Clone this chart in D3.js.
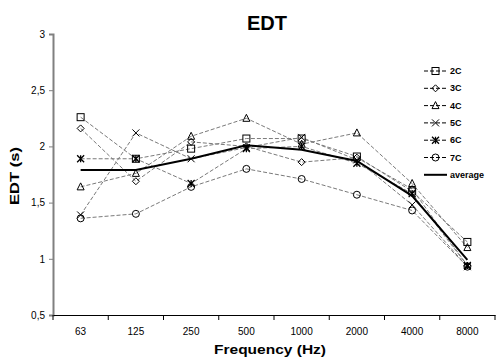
<!DOCTYPE html>
<html><head><meta charset="utf-8">
<script src="https://cdn.jsdelivr.net/npm/d3@7"></script>
<style>body{margin:0;background:#fff}svg{display:block;font-family:"Liberation Sans",Arial,sans-serif}</style>
</head><body><svg id="c" width="499" height="358"></svg>
<script>
const categories = ["63","125","250","500","1000","2000","4000","8000"];
const s2C = [2.26,1.89,1.98,2.07,2.07,1.91,1.60,1.15];
const s3C = [2.16,1.69,2.04,2.00,1.86,1.90,1.62,0.94];
const s4C = [1.64,1.76,2.09,2.25,2.02,2.12,1.67,1.10];
const s5C = [1.39,2.12,1.89,1.99,2.08,1.88,1.48,0.93];
const s6C = [1.89,1.89,1.67,1.98,2.00,1.85,1.58,0.94];
const s7C = [1.36,1.40,1.64,1.80,1.71,1.57,1.43,0.93];
const average = [1.79,1.79,1.89,2.01,1.97,1.87,1.56,0.99];
const yTicks = [0.5,1,1.5,2,2.5,3];
const seriesNames = ["2C","3C","4C","5C","6C","7C"];
const seriesVals = [s2C,s3C,s4C,s5C,s6C,s7C];
const markers = ["square","diamond","triangle","x","asterisk","circle"];

const svg = d3.select("#c");
const x = d3.scaleBand().domain(categories).range([53,495]).padding(0);
const y = d3.scaleLinear().domain([0.5,3]).range([315,34]);
const fmt = v => String(v).replace(".", ",");

// axes
const yAxis = svg.append("g").attr("transform","translate(53,0)")
  .call(d3.axisLeft(y).tickValues(yTicks).tickFormat(fmt).tickSize(4).tickPadding(4));
yAxis.select(".domain").attr("stroke","#808080").attr("stroke-width",2);
yAxis.selectAll(".tick line").attr("stroke","#808080");
yAxis.selectAll("text").attr("font-size","10px").attr("fill","#000");

const xAxis = svg.append("g").attr("transform","translate(0,315)")
  .call(d3.axisBottom(x).tickSize(0).tickPadding(13));
xAxis.select(".domain").attr("stroke","#000");
xAxis.selectAll("text").attr("font-size","10px").attr("fill","#000");
// tick marks at band boundaries
const bounds = categories.map(c => x(c)).concat([x.range()[1]]);
svg.append("g").selectAll("line").data(bounds).join("line")
  .attr("x1",d=>d).attr("x2",d=>d).attr("y1",315).attr("y2",320).attr("stroke","#000");

function drawMarker(g, type, cx, cy) {
  const r = 3.5;
  let el;
  if (type==="square") el = g.append("rect").attr("x",cx-r).attr("y",cy-r).attr("width",2*r).attr("height",2*r);
  else if (type==="diamond") el = g.append("path").attr("d",`M${cx},${cy-r}L${cx+r},${cy}L${cx},${cy+r}L${cx-r},${cy}Z`);
  else if (type==="triangle") el = g.append("path").attr("d",`M${cx},${cy-r-0.5}L${cx+r},${cy+r-0.5}L${cx-r},${cy+r-0.5}Z`);
  else if (type==="x") el = g.append("path").attr("d",`M${cx-r},${cy-r}L${cx+r},${cy+r}M${cx-r},${cy+r}L${cx+r},${cy-r}`);
  else if (type==="asterisk") el = g.append("path").attr("d",`M${cx-r},${cy-r}L${cx+r},${cy+r}M${cx-r},${cy+r}L${cx+r},${cy-r}M${cx},${cy-r}L${cx},${cy+r}`);
  else el = g.append("circle").attr("cx",cx).attr("cy",cy).attr("r",r);
  el.attr("stroke","#000").attr("fill","none").attr("stroke-width", type==="asterisk"?1.3:1);
}

const line = d3.line().x((d,i)=>x(categories[i])+x.bandwidth()/2).y(d=>y(d));
const plot = svg.append("g");
seriesVals.forEach((vals)=>{
  plot.append("path").datum(vals).attr("d",line).attr("fill","none")
    .attr("stroke","#7a7a7a").attr("stroke-width",1).attr("stroke-dasharray","4,2");
});
seriesVals.forEach((vals,si)=>{
  const g = plot.append("g");
  vals.forEach((v,i)=>drawMarker(g, markers[si], x(categories[i])+x.bandwidth()/2, y(v)));
});
plot.append("path").datum(average).attr("d",line).attr("fill","none")
  .attr("stroke","#000").attr("stroke-width",2);

// legend
const lg = svg.append("g");
const names = seriesNames.concat(["average"]);
names.forEach((n,i)=>{
  const ly = 71 + i*17.3;
  if (i<6) {
    lg.append("line").attr("x1",424).attr("x2",447).attr("y1",ly).attr("y2",ly)
      .attr("stroke","#000").attr("stroke-dasharray","4,2");
    drawMarker(lg, markers[i], 435.5, ly);
  } else {
    lg.append("line").attr("x1",424).attr("x2",447).attr("y1",ly).attr("y2",ly)
      .attr("stroke","#000").attr("stroke-width",2);
  }
  lg.append("text").attr("x",450).attr("y",ly+3).attr("font-size","9px").attr("font-weight","bold").text(n);
});

// titles
svg.append("text").attr("x",267).attr("y",30).attr("text-anchor","middle")
  .attr("font-size","20px").attr("font-weight","bold").text("EDT");
svg.append("text").attr("x",270).attr("y",354).attr("text-anchor","middle")
  .attr("font-size","13px").attr("font-weight","bold")
  .attr("textLength",112).attr("lengthAdjust","spacingAndGlyphs").text("Frequency (Hz)");
svg.append("text").attr("transform","translate(19,176) rotate(-90)").attr("text-anchor","middle")
  .attr("font-size","13px").attr("font-weight","bold")
  .attr("textLength",58).attr("lengthAdjust","spacingAndGlyphs").text("EDT (s)");
</script></body></html>
